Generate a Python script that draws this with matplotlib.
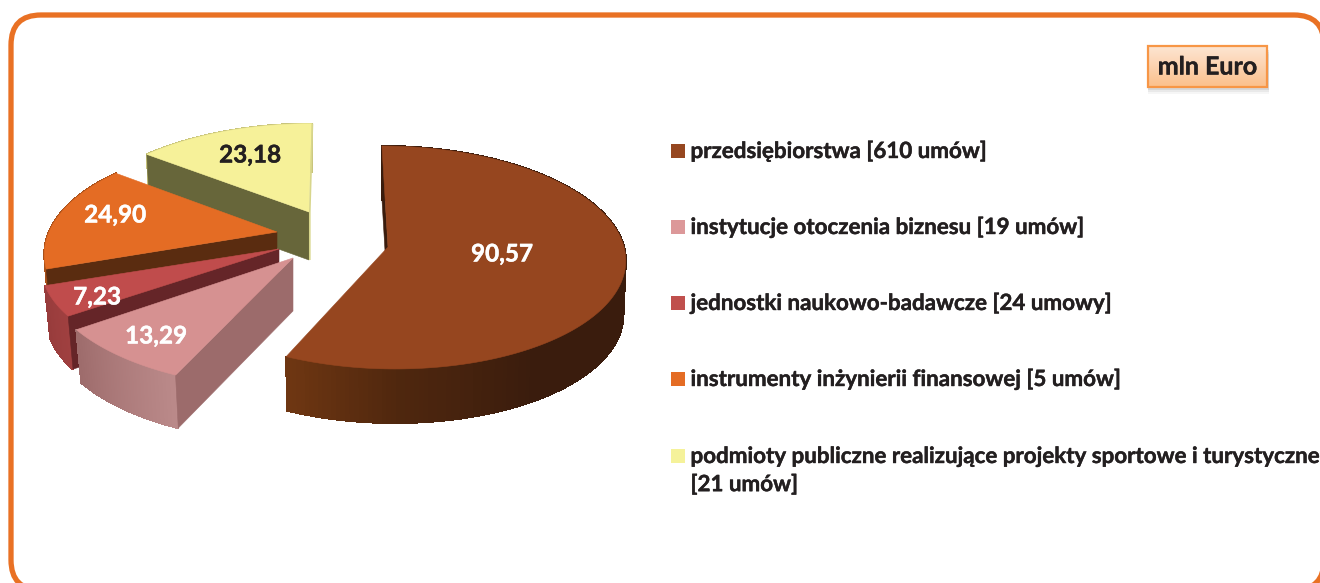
import numpy as np
import matplotlib
matplotlib.use('Agg')
import matplotlib.pyplot as plt
import matplotlib.patheffects as pe
from matplotlib.collections import PolyCollection
from matplotlib.colors import LinearSegmentedColormap, to_rgb
from matplotlib.patches import FancyBboxPatch, Polygon, Rectangle

# data
values = [90.57, 13.29, 7.23, 24.90, 23.18]
legend_labels = [
    'przedsiębiorstwa [610 umów]',
    'instytucje otoczenia biznesu [19 umów]',
    'jednostki naukowo-badawcze [24 umowy]',
    'instrumenty inżynierii finansowej [5 umów]',
    'podmioty publiczne realizujące projekty sportowe i turystyczne\n[21 umów]',
]
unit_label = 'mln Euro'

top_colors = ['#96461f', '#d69191', '#c04c4c', '#e46c24', '#f6f199']
legend_colors = ['#964720', '#dc9899', '#c0504d', '#e46c24', '#f5f29a']
cut_colors = ['#3a1c0d', '#9c6b6b', '#652528', '#5a2c10', '#67663a']
label_colors = ['white', 'white', 'white', 'white', '#231f20']
side_stops = [
    [(0, '#3a1c0d'), (0.72, '#3a1c0d'), (0.88, '#4f270e'), (1, '#6e3612')],
    [(0, '#bb8a8a'), (1, '#9e6c6c')],
    [(0, '#a04040'), (1, '#983c3c')],
    [(0, '#a8501a'), (1, '#a8501a')],
    [(0, '#c8c47c'), (1, '#c8c47c')],
]

# pixel layout: centre x, centre y, rx, ry, perspective, shear, depth, bottom scale
slice_geom = [
    (388, 247, 236, 110.5, 0.094, 0.06, 54, 0.99),
    (293, 258, 248, 118, 0.094, -0.03, 53, 0.977),
    (279, 249, 236, 110.5, 0.094, -0.1, 53, 0.977),
    (277, 232, 228, 108, 0.2, 0.0, 52, 0.98),
    (309, 212, 232, 106, 0.2, -0.03, 48, 0.985),
]
label_pos = [(502, 254), (156, 336), (97, 297), (115, 215), (250, 155)]
legend_y = [151, 227, 303, 379, 456]


def project(ang, geom):
    # ang in degrees, clockwise from 12 o'clock; returns pixel offsets from the apex
    cx, cy, rx, ry, k, shear, depth, sb = geom
    a = np.radians(ang)
    u, v = np.sin(a), -np.cos(a)
    w = 1 - k * v
    x = rx * u / w
    y = ry * v / w
    return x + shear * y, y


def draw_slice(ax, a0, a1, geom, top, cut, stops):
    cx, cy, rx, ry, k, shear, depth, sb = geom
    angs = np.linspace(a0, a1, 200)
    xs, ys = project(angs, geom)
    top_x, top_y = cx + xs, cy + ys
    bot_x, bot_y = cx + xs * sb, cy + ys + depth

    # outer wall as thin strips so the shading can follow the arc
    cmap = LinearSegmentedColormap.from_list('side', stops)
    polys, cols = [], []
    for i in range(len(angs) - 1):
        polys.append([(top_x[i], top_y[i]), (top_x[i + 1], top_y[i + 1]),
                      (bot_x[i + 1], bot_y[i + 1]), (bot_x[i], bot_y[i])])
        cols.append(cmap(i / (len(angs) - 2)))
    ax.add_collection(PolyCollection(polys, facecolors=cols, edgecolors=cols, linewidths=0.8,
                                     antialiaseds=False))

    # cut face along the first radius
    ax.add_patch(Polygon([(cx, cy), (top_x[0], top_y[0]), (bot_x[0], bot_y[0]), (cx, cy + depth)],
                         closed=True, facecolor=cut, edgecolor=cut, linewidth=0.4))
    # top face
    ax.add_patch(Polygon(np.vstack([[cx, cy], np.column_stack([top_x, top_y])]),
                         closed=True, facecolor=top, edgecolor=top, linewidth=0.4))


fig = plt.figure(figsize=(13.2, 5.83), dpi=100)
ax = fig.add_axes([0, 0, 1, 1])
ax.set_xlim(0, 1320)
ax.set_ylim(583, 0)
ax.axis('off')
plt.rcParams['font.family'] = ['Lato', 'DejaVu Sans']

# frame
ax.add_patch(FancyBboxPatch((11, 15), 1313, 575, boxstyle='round,pad=0,rounding_size=30',
                            facecolor='white', edgecolor='#e97124', linewidth=3.8))

# pie, back slices first
edges = np.concatenate([[0], np.cumsum(values)]) / np.sum(values) * 360
for i in [4, 3, 2, 1, 0]:
    draw_slice(ax, edges[i], edges[i + 1], slice_geom[i], top_colors[i], cut_colors[i], side_stops[i])
    if i == 4:
        # thin lit edge on the last radius of the yellow slice
        xe, ye = project(edges[5], slice_geom[4])
        g = slice_geom[4]
        ax.plot([g[0] + xe + 0.8, g[0] + 0.8, g[0] + 0.8], [g[1] + ye, g[1], g[1] + g[6]],
                color='#d8d68c', lw=1.2, solid_capstyle='butt')

for i, v in enumerate(values):
    ax.text(label_pos[i][0], label_pos[i][1], f'{v:.2f}'.replace('.', ','), color=label_colors[i],
            fontsize=17.5, fontweight='bold', ha='center', va='center',
            path_effects=[pe.withStroke(linewidth=0.3, foreground=label_colors[i])])

# legend
for y, lab, col in zip(legend_y, legend_labels, legend_colors):
    ax.add_patch(Rectangle((671, y - 7), 14, 14, facecolor=col, edgecolor='none'))
    ax.text(690.5, y - 10, lab, fontsize=16.1, fontweight='bold', color='#231f20',
            ha='left', va='top', linespacing=1.42,
            path_effects=[pe.withStroke(linewidth=0.3, foreground='#231f20')])

# unit box
for off, al in [(7, 0.05), (5, 0.08), (3, 0.12)]:
    ax.add_patch(Rectangle((1148, 47 + off), 120 + off * 0.2, 40, facecolor='#555555',
                           edgecolor='none', alpha=al))
a, b = np.array(to_rgb('#fde5d2')), np.array(to_rgb('#fbc08c'))
grad = np.linspace(0, 1, 64)[:, None, None] * (b - a) + a
ax.imshow(grad, extent=(1148, 1267, 87, 46), aspect='auto', zorder=3)
ax.add_patch(Rectangle((1148, 46), 119, 41, facecolor='none', edgecolor='#f79646', linewidth=1.6, zorder=4))
ax.text(1207.5, 67, unit_label, fontsize=18, fontweight='bold', color='#231f20',
        ha='center', va='center', zorder=5,
        path_effects=[pe.withStroke(linewidth=0.3, foreground='#231f20')])
ax.set_xlim(0, 1320)
ax.set_ylim(583, 0)

fig.savefig('out.png', dpi=100)
